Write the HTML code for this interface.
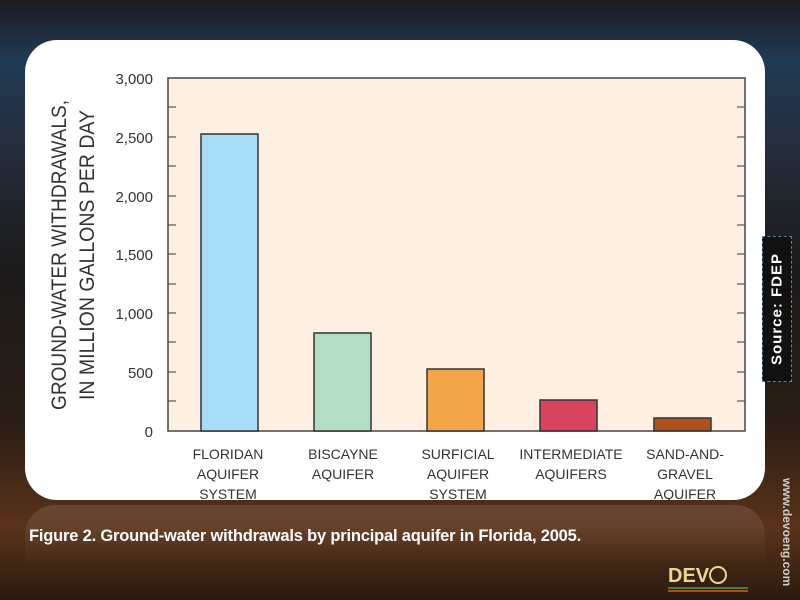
<!DOCTYPE html>
<html><head><style>
body{margin:0;width:800px;height:600px;overflow:hidden;font-family:"Liberation Sans",sans-serif;
background:linear-gradient(180deg,#1c1c1e 0%,#1f3a55 10%,#253040 22%,#1c1a1a 45%,#2a1e16 70%,#5a3218 88%,#2a1a10 100%);position:relative}
.panel{position:absolute;left:25px;top:40px;width:740px;height:460px;background:#fff;border-radius:32px}
.refl{position:absolute;left:25px;top:505px;width:740px;height:60px;border-radius:30px 30px 0 0;background:linear-gradient(180deg,rgba(255,255,255,0.12),rgba(255,255,255,0))}
.cap{position:absolute;left:29px;top:527px;color:#fff;font-size:16.5px;font-weight:bold;letter-spacing:-0.2px}
.src{position:absolute;left:762px;top:236px;width:28px;height:144px;border:1px dashed #6080a0;background:#111}
.src span{position:absolute;left:50%;top:50%;transform:translate(-50%,-50%) rotate(-90deg);color:#fff;font-weight:bold;font-size:15px;white-space:nowrap;letter-spacing:1px}
</style></head><body>
<div class="refl"></div>
<div class="panel"></div>
<svg width="800" height="600" style="position:absolute;left:0;top:0">
<rect x="168" y="78" width="577" height="353" fill="#fdf0e2" stroke="#444" stroke-width="1.5"/>
<g stroke="#555" stroke-width="1.2">
<line x1="168" y1="78" x2="176" y2="78"/><line x1="737" y1="78" x2="745" y2="78"/>
<line x1="168" y1="137" x2="176" y2="137"/><line x1="737" y1="137" x2="745" y2="137"/>
<line x1="168" y1="196" x2="176" y2="196"/><line x1="737" y1="196" x2="745" y2="196"/>
<line x1="168" y1="254" x2="176" y2="254"/><line x1="737" y1="254" x2="745" y2="254"/>
<line x1="168" y1="313" x2="176" y2="313"/><line x1="737" y1="313" x2="745" y2="313"/>
<line x1="168" y1="372" x2="176" y2="372"/><line x1="737" y1="372" x2="745" y2="372"/>
<line x1="168" y1="107" x2="176" y2="107"/><line x1="737" y1="107" x2="745" y2="107"/>
<line x1="168" y1="166" x2="176" y2="166"/><line x1="737" y1="166" x2="745" y2="166"/>
<line x1="168" y1="225" x2="176" y2="225"/><line x1="737" y1="225" x2="745" y2="225"/>
<line x1="168" y1="284" x2="176" y2="284"/><line x1="737" y1="284" x2="745" y2="284"/>
<line x1="168" y1="342" x2="176" y2="342"/><line x1="737" y1="342" x2="745" y2="342"/>
<line x1="168" y1="401" x2="176" y2="401"/><line x1="737" y1="401" x2="745" y2="401"/>
</g>
<g stroke="#333" stroke-width="1.5">
<rect x="201" y="134" width="57" height="297" fill="#a8ddf7"/>
<rect x="314" y="333" width="57" height="98" fill="#b2dfc4"/>
<rect x="427" y="369" width="57" height="62" fill="#f2a648"/>
<rect x="540" y="400" width="57" height="31" fill="#d8445e"/>
<rect x="654" y="418" width="57" height="13" fill="#b0501e"/>
</g>
<g font-family="Liberation Sans Narrow,Liberation Sans,sans-serif" font-size="15" fill="#333" text-anchor="end">
<text x="153" y="84">3,000</text><text x="153" y="143">2,500</text><text x="153" y="202">2,000</text>
<text x="153" y="260">1,500</text><text x="153" y="319">1,000</text><text x="153" y="378">500</text><text x="153" y="437">0</text>
</g>
<g font-family="Liberation Sans,sans-serif" font-size="21" fill="#333" text-anchor="middle">
<text transform="translate(66,255) rotate(-90)" textLength="310" lengthAdjust="spacingAndGlyphs">GROUND-WATER WITHDRAWALS,</text>
<text transform="translate(94,255) rotate(-90)" textLength="290" lengthAdjust="spacingAndGlyphs">IN MILLION GALLONS PER DAY</text>
</g>
<g font-family="Liberation Sans,sans-serif" font-size="14" fill="#333" text-anchor="middle">
<text x="228" y="459">FLORIDAN</text><text x="228" y="479">AQUIFER</text><text x="228" y="499">SYSTEM</text>
<text x="343" y="459">BISCAYNE</text><text x="343" y="479">AQUIFER</text>
<text x="458" y="459">SURFICIAL</text><text x="458" y="479">AQUIFER</text><text x="458" y="499">SYSTEM</text>
<text x="571" y="459">INTERMEDIATE</text><text x="571" y="479">AQUIFERS</text>
<text x="685" y="459">SAND-AND-</text><text x="685" y="479">GRAVEL</text><text x="685" y="499">AQUIFER</text>
</g>
<text transform="translate(783,478) rotate(90)" font-family="Liberation Sans,sans-serif" font-size="12" font-weight="bold" fill="#ccc">www.devoeng.com</text>
<text x="668" y="582" font-family="Liberation Sans,sans-serif" font-size="20" font-weight="bold" fill="#e8d890">DEV</text>
<circle cx="718" cy="575" r="8" fill="none" stroke="#e8d890" stroke-width="2"/>
<rect x="668" y="587" width="80" height="2" fill="#3a8a3a"/>
<rect x="668" y="590" width="80" height="2" fill="#c04020"/>
</svg>
<div class="cap">Figure 2. Ground-water withdrawals by principal aquifer in Florida, 2005.</div>
<div class="src"><span>Source: FDEP</span></div>
</body></html>
